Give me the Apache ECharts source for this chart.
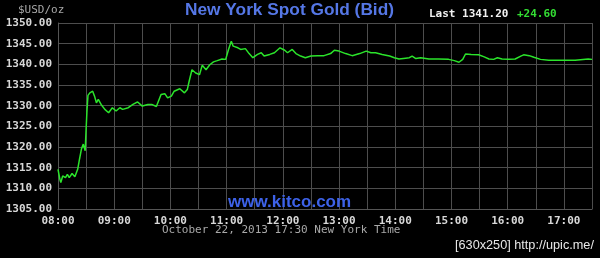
<!DOCTYPE html>
<html><head><meta charset="utf-8">
<script src="https://cdn.jsdelivr.net/npm/echarts@6/dist/echarts.min.js"></script>
<style>html,body{margin:0;padding:0;background:#000;}#c{width:600px;height:258px;}</style>
</head><body><div id="c"></div>
<script>
var times = ["08:00","08:02","08:03","08:05","08:08","08:10","08:12","08:15","08:18","08:21","08:23","08:25","08:27","08:29","08:30","08:31","08:32","08:34","08:37","08:39","08:41","08:43","08:46","08:50","08:54","08:58","09:02","09:06","09:09","09:15","09:20","09:25","09:30","09:36","09:40","09:45","09:50","09:54","09:57","10:01","10:04","10:10","10:15","10:18","10:20","10:23","10:27","10:31","10:34","10:38","10:42","10:46","10:50","10:55","10:59","11:02","11:05","11:07","11:12","11:15","11:20","11:24","11:28","11:33","11:37","11:40","11:46","11:51","11:57","12:02","12:05","12:10","12:14","12:19","12:24","12:30","12:37","12:44","12:51","12:55","13:00","13:07","13:14","13:22","13:29","13:34","13:39","13:46","13:54","13:59","14:04","14:11","14:15","14:18","14:22","14:27","14:36","14:46","14:57","15:03","15:08","15:12","15:15","15:21","15:29","15:35","15:40","15:45","15:49","15:54","16:01","16:08","16:14","16:17","16:23","16:28","16:35","16:44","17:02","17:12","17:14","17:26","17:30"];
var prices = [1314.6,1312.2,1311.4,1313.0,1312.6,1313.4,1312.6,1313.6,1312.8,1314.6,1317.1,1319.5,1320.7,1319.1,1324.3,1329.1,1332.5,1333.1,1333.5,1332.3,1330.7,1331.5,1330.3,1329.1,1328.3,1329.5,1328.7,1329.5,1329.1,1329.5,1330.3,1330.9,1329.9,1330.3,1330.3,1329.8,1332.7,1332.9,1331.9,1332.3,1333.5,1334.1,1333.1,1333.9,1335.9,1338.7,1337.9,1337.5,1339.8,1338.7,1339.9,1340.6,1340.9,1341.3,1341.2,1343.6,1345.6,1344.4,1344.0,1343.6,1343.8,1342.6,1341.6,1342.4,1342.8,1342.0,1342.4,1342.8,1344.0,1343.4,1342.8,1343.6,1342.6,1342.0,1341.6,1342.0,1342.1,1342.1,1342.6,1343.4,1343.2,1342.6,1342.1,1342.6,1343.2,1342.8,1342.8,1342.4,1342.0,1341.6,1341.3,1341.5,1341.6,1342.0,1341.4,1341.6,1341.3,1341.3,1341.2,1340.9,1340.5,1341.2,1342.5,1342.4,1342.3,1341.8,1341.3,1341.2,1341.6,1341.3,1341.2,1341.3,1342.0,1342.3,1342.1,1341.7,1341.2,1341.0,1341.0,1341.0,1341.3,1341.3,1341.2];
var yTicks = [1305,1310,1315,1320,1325,1330,1335,1340,1345,1350];
var titleText = "New York Spot Gold (Bid)";
var unitText = "$USD/oz";
var lastText = "Last 1341.20";
var changeText = "+24.60";
var dateText = "October 22, 2013 17:30 New York Time";
var siteText = "www.kitco.com";
var stampText = "[630x250] http://upic.me/";

function toMin(s){var p=s.split(":");return (+p[0]-8)*60+(+p[1]);}
function pad(n){return (n<10?"0":"")+n;}
var data = times.map(function(t,i){return [toMin(t), prices[i]];});

var mono = "'DejaVu Sans Mono', 'Liberation Mono', monospace";
var chart = echarts.init(document.getElementById('c'), null, {renderer:'canvas'});
chart.setOption({
  backgroundColor: '#000',
  animation: false,
  grid: {left: 58, right: 8, top: 23, bottom: 49},
  xAxis: {
    type: 'value', min: 0, max: 570, interval: 30,
    axisLine: {show: true, lineStyle: {color: '#555', width: 1}},
    axisTick: {show: false},
    splitLine: {show: true, lineStyle: {color: '#4d4d4d', width: 1}},
    axisLabel: {
      margin: 7, color: '#d8d8d8', fontFamily: mono, fontSize: 11, fontWeight: 'bold',
      showMaxLabel: false,
      formatter: function(v){ if (v % 60 !== 0) return ''; return pad(8 + v/60) + ':00'; }
    }
  },
  yAxis: {
    type: 'value', min: yTicks[0], max: yTicks[yTicks.length-1], interval: 5,
    axisLine: {show: true, lineStyle: {color: '#555', width: 1}},
    axisTick: {show: false},
    splitLine: {show: true, lineStyle: {color: '#4d4d4d', width: 1}},
    axisLabel: {margin: 6, color: '#d8d8d8', fontFamily: mono, fontSize: 11, fontWeight: 'bold',
      formatter: function(v){ return v.toFixed(2); }}
  },
  graphic: [
    {type: 'rect', left: 592, top: 23, shape: {x:0,y:0,width:1,height:186}, style: {fill: '#555'}, silent: true},
    {type: 'text', left: 18, top: 5, style: {text: unitText, fill: '#a8a8a8', font: '11px ' + mono}},
    {type: 'text', left: 185, top: 2, style: {text: titleText, fill: '#5577e6', font: 'bold 17.3px "Liberation Sans", Arial, sans-serif'}},
    {type: 'text', left: 429, top: 9, style: {text: lastText, fill: '#f0f0f0', font: 'bold 11px ' + mono}},
    {type: 'text', left: 517, top: 9, style: {text: changeText, fill: '#33dd33', font: 'bold 11px ' + mono}},
    {type: 'text', left: 228, top: 194, z: 100, style: {text: siteText, fill: '#3d62e8', font: 'bold 17px "Liberation Sans", Arial, sans-serif'}},
    {type: 'text', left: 162, top: 225, style: {text: dateText, fill: '#a8a8a8', font: '11px ' + mono}},
    {type: 'text', left: 455, top: 239, style: {text: stampText, fill: '#e8e8e8', font: '12.7px "Liberation Sans", sans-serif'}}
  ],
  series: [{
    type: 'line', data: data, showSymbol: false, symbol: 'none',
    lineStyle: {color: '#2be42b', width: 1.5}
  }]
});
</script></body></html>
